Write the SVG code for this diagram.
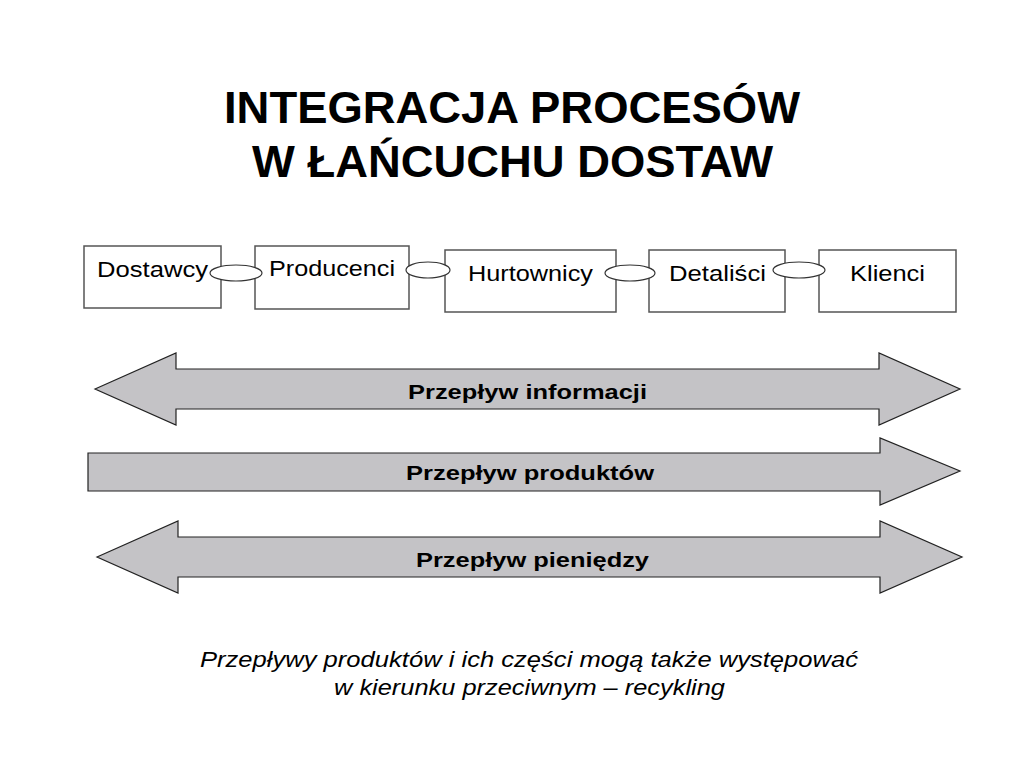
<svg xmlns="http://www.w3.org/2000/svg" width="1024" height="768" viewBox="0 0 1024 768">
<style>
.t{font-family:"Liberation Sans",Arial,sans-serif;fill:#000}
.box{fill:#fff;stroke:#555;stroke-width:1.5}
.arr{fill:#c4c3c6;stroke:#222;stroke-width:1.2}
.ell{fill:#fff;stroke:#333;stroke-width:1.2}
</style>
<rect width="1024" height="768" fill="#fff"/>
<text class="t" x="224" y="123" font-size="44" font-weight="bold" textLength="576" lengthAdjust="spacingAndGlyphs">INTEGRACJA PROCESÓW</text>
<text class="t" x="252" y="177" font-size="44" font-weight="bold" textLength="521" lengthAdjust="spacingAndGlyphs">W ŁAŃCUCHU DOSTAW</text>
<g id="dostawcy"><rect class="box" x="84" y="246" width="137" height="62"/><text class="t" x="97" y="277" font-size="22" textLength="111" lengthAdjust="spacingAndGlyphs">Dostawcy</text></g>
<g id="producenci"><rect class="box" x="255" y="246" width="154" height="63"/><text class="t" x="269" y="276" font-size="22" textLength="126" lengthAdjust="spacingAndGlyphs">Producenci</text></g>
<g id="hurtownicy"><rect class="box" x="445" y="250" width="171" height="62"/><text class="t" x="468" y="281" font-size="22" textLength="125" lengthAdjust="spacingAndGlyphs">Hurtownicy</text></g>
<g id="detalisci"><rect class="box" x="649" y="250" width="136" height="62"/><text class="t" x="669" y="281" font-size="22" textLength="97" lengthAdjust="spacingAndGlyphs">Detaliści</text></g>
<g id="klienci"><rect class="box" x="819" y="250" width="137" height="62"/><text class="t" x="850" y="281" font-size="22" textLength="75" lengthAdjust="spacingAndGlyphs">Klienci</text></g>
<g id="connectors">
<ellipse class="ell" cx="236" cy="273" rx="26" ry="8"/>
<ellipse class="ell" cx="428" cy="270" rx="22" ry="8"/>
<ellipse class="ell" cx="630" cy="273" rx="25" ry="8"/>
<ellipse class="ell" cx="799" cy="270" rx="26" ry="8"/>
</g>
<g id="info"><polygon class="arr" points="95,389 176,353 176,369 879,369 879,353 960,389 879,425 879,409 176,409 176,425"/><text class="t" x="408" y="399" font-size="21" font-weight="bold" textLength="239" lengthAdjust="spacingAndGlyphs">Przepływ informacji</text></g>
<g id="produkty"><polygon class="arr" points="88,453 880,453 880,438 960,471 880,505 880,491 88,491"/><text class="t" x="406" y="480" font-size="21" font-weight="bold" textLength="248" lengthAdjust="spacingAndGlyphs">Przepływ produktów</text></g>
<g id="pieniadze"><polygon class="arr" points="97,557 178,521 178,537 880,537 880,521 962,557 880,593 880,577 178,577 178,593"/><text class="t" x="416" y="567" font-size="21" font-weight="bold" textLength="233" lengthAdjust="spacingAndGlyphs">Przepływ pieniędzy</text></g>
<text class="t" x="200" y="667" font-size="22" font-style="italic" textLength="658" lengthAdjust="spacingAndGlyphs">Przepływy produktów i ich części mogą także występować</text>
<text class="t" x="334" y="695" font-size="22" font-style="italic" textLength="391" lengthAdjust="spacingAndGlyphs">w kierunku przeciwnym – recykling</text>
</svg>
